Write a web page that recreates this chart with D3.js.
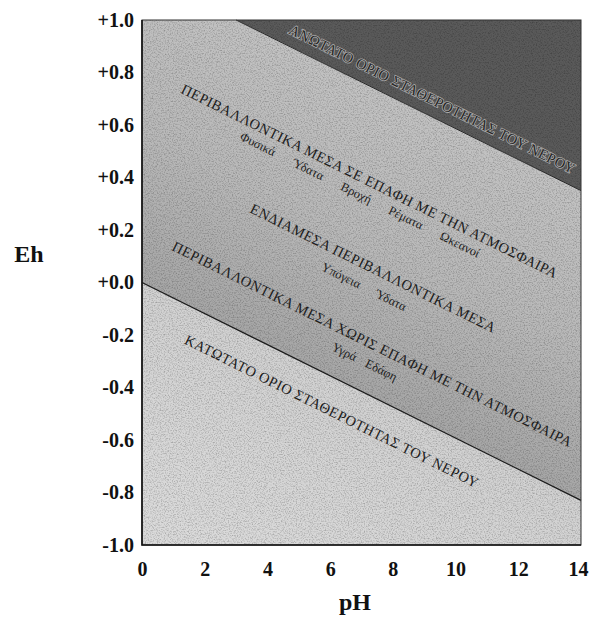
<!DOCTYPE html>
<html>
<head>
<meta charset="utf-8">
<script src="https://cdn.jsdelivr.net/npm/d3@7"></script>
<style>
  html, body { margin: 0; padding: 0; background: #ffffff; }
  svg { display: block; }
</style>
</head>
<body>
<svg id="chart" width="591" height="621"></svg>
<script>
// Eh–pH stability field of water with environmental settings

// axis ticks
const phTicks = [0, 2, 4, 6, 8, 10, 12, 14];
const ehTicks = [1.0, 0.8, 0.6, 0.4, 0.2, 0.0, -0.2, -0.4, -0.6, -0.8, -1.0];

// stability limits of water (pH, Eh)
const upperLimitPH = [3.0, 14];
const upperLimitEh = [1.0, 0.35];
const lowerLimitPH = [0, 14];
const lowerLimitEh = [0.0, -0.83];

// region captions
const captionTexts = [
  "ΑΝΩΤΑΤΟ ΟΡΙΟ ΣΤΑΘΕΡΟΤΗΤΑΣ ΤΟΥ ΝΕΡΟΥ",
  "ΠΕΡΙΒΑΛΛΟΝΤΙΚΑ ΜΕΣΑ ΣΕ ΕΠΑΦΗ ΜΕ ΤΗΝ ΑΤΜΟΣΦΑΙΡΑ",
  "Φυσικά Ύδατα Βροχή Ρέματα Ωκεανοί",
  "ΕΝΔΙΑΜΕΣΑ ΠΕΡΙΒΑΛΛΟΝΤΙΚΑ ΜΕΣΑ",
  "Υπόγεια Ύδατα",
  "ΠΕΡΙΒΑΛΛΟΝΤΙΚΑ ΜΕΣΑ ΧΩΡΙΣ ΕΠΑΦΗ ΜΕ ΤΗΝ ΑΤΜΟΣΦΑΙΡΑ",
  "Υγρά Εδάφη",
  "ΚΑΤΩΤΑΤΟ ΟΡΙΟ ΣΤΑΘΕΡΟΤΗΤΑΣ ΤΟΥ ΝΕΡΟΥ"
];
// caption anchors in (pH, Eh)
const captionPH = [9.25, 7.25, 6.95, 7.37, 7.08, 7.34, 7.1, 6.05];
const captionEh = [0.699, 0.387, 0.333, 0.055, -0.017, -0.234, -0.303, -0.49];

// ---- layout & style ----
const layout = { left: 142, right: 581, top: 20, bottom: 545 };
const captionStyle = [
  { size: 14.5, len: 317, dark: true },
  { size: 14.5, len: 418 },
  { size: 12.5, len: 266, words: true },
  { size: 14.5, len: 272 },
  { size: 12.5, len: 93, words: true },
  { size: 14.5, len: 444 },
  { size: 12.5, len: 71, words: true },
  { size: 14.5, len: 326 }
];
const serif = "'Liberation Serif', 'Times New Roman', 'DejaVu Serif', serif";

const svg = d3.select("#chart");
const x = d3.scaleLinear().domain([0, 14]).range([layout.left, layout.right]);
const y = d3.scaleLinear().domain([-1, 1]).range([layout.bottom, layout.top]);

const upper = upperLimitPH.map((p, i) => [p, upperLimitEh[i]]);
const lower = lowerLimitPH.map((p, i) => [p, lowerLimitEh[i]]);
const [phMin, phMax] = x.domain();
const [ehMin, ehMax] = y.domain();

const defs = svg.append("defs");

// grain of the shaded fields
const grain = defs.append("filter").attr("id", "grain")
  .attr("x", 0).attr("y", 0).attr("width", "100%").attr("height", "100%")
  .attr("color-interpolation-filters", "sRGB");
grain.append("feTurbulence").attr("type", "fractalNoise")
  .attr("baseFrequency", 0.75).attr("numOctaves", 2).attr("seed", 7).attr("stitchTiles", "stitch");
grain.append("feColorMatrix").attr("type", "matrix")
  .attr("values", "0 0 0 0 0  0 0 0 0 0  0 0 0 0 0  -2.2 0 0 0 1.25");

// shading across the band between the two limits
const px = d => [x(d[0]), y(d[1])];
const lo0 = px(lower[0]), lo1 = px(lower[1]);
const ang = Math.atan2(lo1[1] - lo0[1], lo1[0] - lo0[0]);
const midPH = 7;
const onLower = px([midPH, lowerLimitEh[0] + (lowerLimitEh[1] - lowerLimitEh[0]) * (midPH - lowerLimitPH[0]) / (lowerLimitPH[1] - lowerLimitPH[0])]);
const upEh = upperLimitEh[0] + (upperLimitEh[1] - upperLimitEh[0]) * (midPH - upperLimitPH[0]) / (upperLimitPH[1] - upperLimitPH[0]);
const gap = (onLower[1] - y(upEh)) * Math.cos(ang);
const nx = Math.sin(ang), ny = -Math.cos(ang);
const band = defs.append("linearGradient").attr("id", "band").attr("gradientUnits", "userSpaceOnUse")
  .attr("x1", onLower[0] + nx * gap).attr("y1", onLower[1] + ny * gap)
  .attr("x2", onLower[0]).attr("y2", onLower[1]);
band.append("stop").attr("offset", 0).attr("stop-color", "#c2c2c2");
band.append("stop").attr("offset", 0.5).attr("stop-color", "#b9b9b9");
band.append("stop").attr("offset", 1).attr("stop-color", "#a6a6a6");

const low = defs.append("linearGradient").attr("id", "low").attr("gradientUnits", "userSpaceOnUse")
  .attr("x1", onLower[0]).attr("y1", onLower[1])
  .attr("x2", onLower[0] - nx * 200).attr("y2", onLower[1] - ny * 200);
low.append("stop").attr("offset", 0).attr("stop-color", "#d1d1d1");
low.append("stop").attr("offset", 1).attr("stop-color", "#dadada");

const poly = pts => "M" + pts.map(px).map(p => p.join(",")).join("L") + "Z";

const fields = svg.append("g");
// above the upper limit
fields.append("path")
  .attr("d", poly([upper[0], [phMax, ehMax], upper[1]]))
  .attr("fill", "#5a5a5a");
// between the limits
fields.append("path")
  .attr("d", poly([[phMin, ehMax], upper[0], upper[1], lower[1], lower[0]]))
  .attr("fill", "url(#band)");
// below the lower limit
fields.append("path")
  .attr("d", poly([lower[0], lower[1], [phMax, ehMin], [phMin, ehMin]]))
  .attr("fill", "url(#low)");
// speckle of the print
fields.append("rect")
  .attr("x", x(phMin)).attr("y", y(ehMax))
  .attr("width", x(phMax) - x(phMin)).attr("height", y(ehMin) - y(ehMax))
  .attr("filter", "url(#grain)")
  .attr("opacity", 0.25);

// limit lines
const line = d3.line().x(d => x(d[0])).y(d => y(d[1]));
svg.append("path").attr("d", line(upper)).attr("fill", "none")
  .attr("stroke", "#2a2a2a").attr("stroke-width", 1);
svg.append("path").attr("d", line(lower)).attr("fill", "none")
  .attr("stroke", "#1a1a1a").attr("stroke-width", 1.3);

// captions
const deg = ang * 180 / Math.PI;
captionTexts.forEach((t, i) => {
  const st = captionStyle[i];
  const cx = x(captionPH[i]), cy = y(captionEh[i]);
  const txt = svg.append("text")
    .attr("transform", `translate(${cx},${cy}) rotate(${deg})`)
    .attr("text-anchor", "middle")
    .attr("dominant-baseline", "central")
    .attr("font-family", serif)
    .attr("font-size", st.size)
    .attr("fill", st.dark ? "#262626" : "#1c1c1c")
    .text(t);
  // embossed look for the caption printed on the dark field
  if (st.dark) txt.attr("stroke", "#a8a8a8").attr("stroke-width", 1.6)
    .style("paint-order", "stroke");
  const natural = txt.node().getComputedTextLength();
  if (st.words) {
    const gaps = (t.match(/ /g) || []).length;
    if (gaps > 0 && st.len > natural) txt.style("word-spacing", ((st.len - natural) / gaps) + "px");
  } else {
    txt.attr("textLength", st.len).attr("lengthAdjust", "spacing");
  }
});

// frame
svg.append("rect")
  .attr("x", x(phMin)).attr("y", y(ehMax))
  .attr("width", x(phMax) - x(phMin)).attr("height", y(ehMin) - y(ehMax))
  .attr("fill", "none").attr("stroke", "#333").attr("stroke-width", 1);
svg.append("path")
  .attr("d", `M${x(phMin)},${y(ehMax)}V${y(ehMin)}H${x(phMax)}`)
  .attr("fill", "none").attr("stroke", "#111").attr("stroke-width", 1.6);

// axes
const fmt = d => (Math.abs(d) < 1e-9 ? "+0.0" : (d > 0 ? "+" : "") + d.toFixed(1));
const yAxis = svg.append("g")
  .attr("transform", `translate(${x(phMin)},0)`)
  .call(d3.axisLeft(y).tickValues(ehTicks).tickFormat(fmt).tickSize(0).tickPadding(8));
const xAxis = svg.append("g")
  .attr("transform", `translate(0,${y(ehMin)})`)
  .call(d3.axisBottom(x).tickValues(phTicks).tickFormat(d3.format("d")).tickSize(0).tickPadding(17));
[yAxis, xAxis].forEach(a => {
  a.select(".domain").remove();
  a.selectAll("text")
    .attr("font-family", serif).attr("font-size", 20)
    .attr("font-weight", "bold").attr("fill", "#111");
});
// keep the last pH label inside the page
xAxis.selectAll(".tick").filter(d => d === phMax).select("text").attr("dx", -3);

// axis titles
svg.append("text").attr("x", 29).attr("y", 262)
  .attr("text-anchor", "middle")
  .attr("font-family", serif).attr("font-size", 24).attr("font-weight", "bold")
  .attr("fill", "#111").text("Eh");
svg.append("text").attr("x", 355).attr("y", 610)
  .attr("text-anchor", "middle")
  .attr("font-family", serif).attr("font-size", 24).attr("font-weight", "bold")
  .attr("fill", "#111").text("pH");
</script>
</body>
</html>
